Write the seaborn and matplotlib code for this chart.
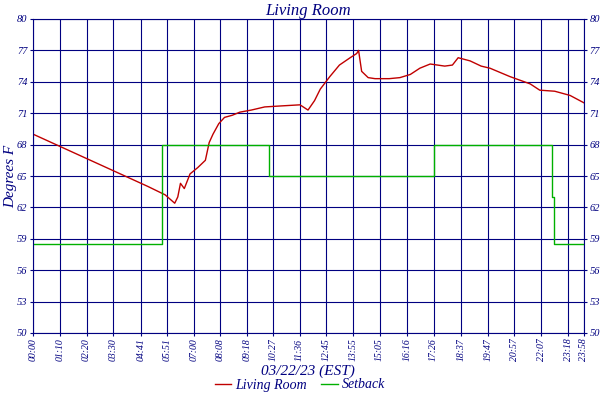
import matplotlib
matplotlib.use("Agg")
import matplotlib.pyplot as plt
import seaborn as sns
import pandas as pd

tick_minutes = [0,70,140,210,281,351,420,488,558,627,696,765,835,905,976,1046,1117,1187,1257,1327,1398,1438]
tick_labels = ["00:00","01:10","02:20","03:30","04:41","05:51","07:00","08:08","09:18","10:27","11:36","12:45",
               "13:55","15:05","16:16","17:26","18:37","19:47","20:57","22:07","23:18","23:58"]
room_min = [0,60,120,180,240,300,345,370,378,385,395,410,430,450,460,470,485,500,520,540,570,605,650,697,718,
            735,750,775,800,828,845,850,858,875,893,930,958,985,1010,1037,1075,1095,1110,1141,1170,1193,1245,
            1298,1323,1362,1402,1438]
room_val = [69,68.0,67.0,66.0,65.0,64.0,63.2,62.4,63.0,64.3,63.8,65.2,65.8,66.5,68.2,69.0,70.0,70.6,70.8,71.1,71.3,71.6,71.7,
            71.8,71.3,72.2,73.3,74.5,75.6,76.3,76.7,77.0,75.0,74.4,74.3,74.3,74.4,74.7,75.3,75.7,75.5,75.6,76.3,
            76.0,75.5,75.3,74.5,73.8,73.2,73.1,72.7,72.0]
set_min = [0,337,616,1047,1355,1360,1438]
set_val = [58.5,68,65,68,63,58.5,58.5]

navy = "#000080"
plt.rcParams["font.family"] = "Liberation Serif"
plt.rcParams["font.style"] = "italic"
fig = plt.figure(figsize=(6,4), dpi=100)
ax = fig.add_axes([0.055, 0.1675, 0.918, 0.785])
sns.lineplot(x=room_min, y=room_val, color="#c00000", lw=1, ax=ax, label="Living Room")
sns.lineplot(x=set_min, y=set_val, color="#00b000", lw=1, ax=ax, drawstyle="steps-post", label="Setback")
ax.set_xlim(0,1438); ax.set_ylim(50,80)
ax.set_xticks(tick_minutes); ax.set_xticklabels(tick_labels, rotation=90, fontsize=7, color=navy)
yt = list(range(50,81,3))
ax.set_yticks(yt); ax.set_yticklabels([str(v) for v in yt], fontsize=7.5, color=navy)
ax.tick_params(axis="y", right=True, labelright=True, colors=navy, length=2, pad=2)
ax.tick_params(axis="x", colors=navy, length=2, pad=2)
ax.grid(True, color=navy, lw=0.8)
for s in ax.spines.values(): s.set_color(navy)
ax.set_title("Living Room", color=navy, fontsize=12, pad=2)
ax.set_xlabel("03/22/23 (EST)", color=navy, fontsize=11, labelpad=2)
ax.set_ylabel("Degrees F", color=navy, fontsize=11, labelpad=0)
ax.get_legend().remove()
h, l = ax.get_legend_handles_labels()
fig.legend(h, l, loc="lower center", bbox_to_anchor=(0.5,-0.01), ncol=2, frameon=False, fontsize=10,
           labelcolor=navy, handlelength=1.2, columnspacing=1, handletextpad=0.3)
fig.savefig("out.png", dpi=100)
